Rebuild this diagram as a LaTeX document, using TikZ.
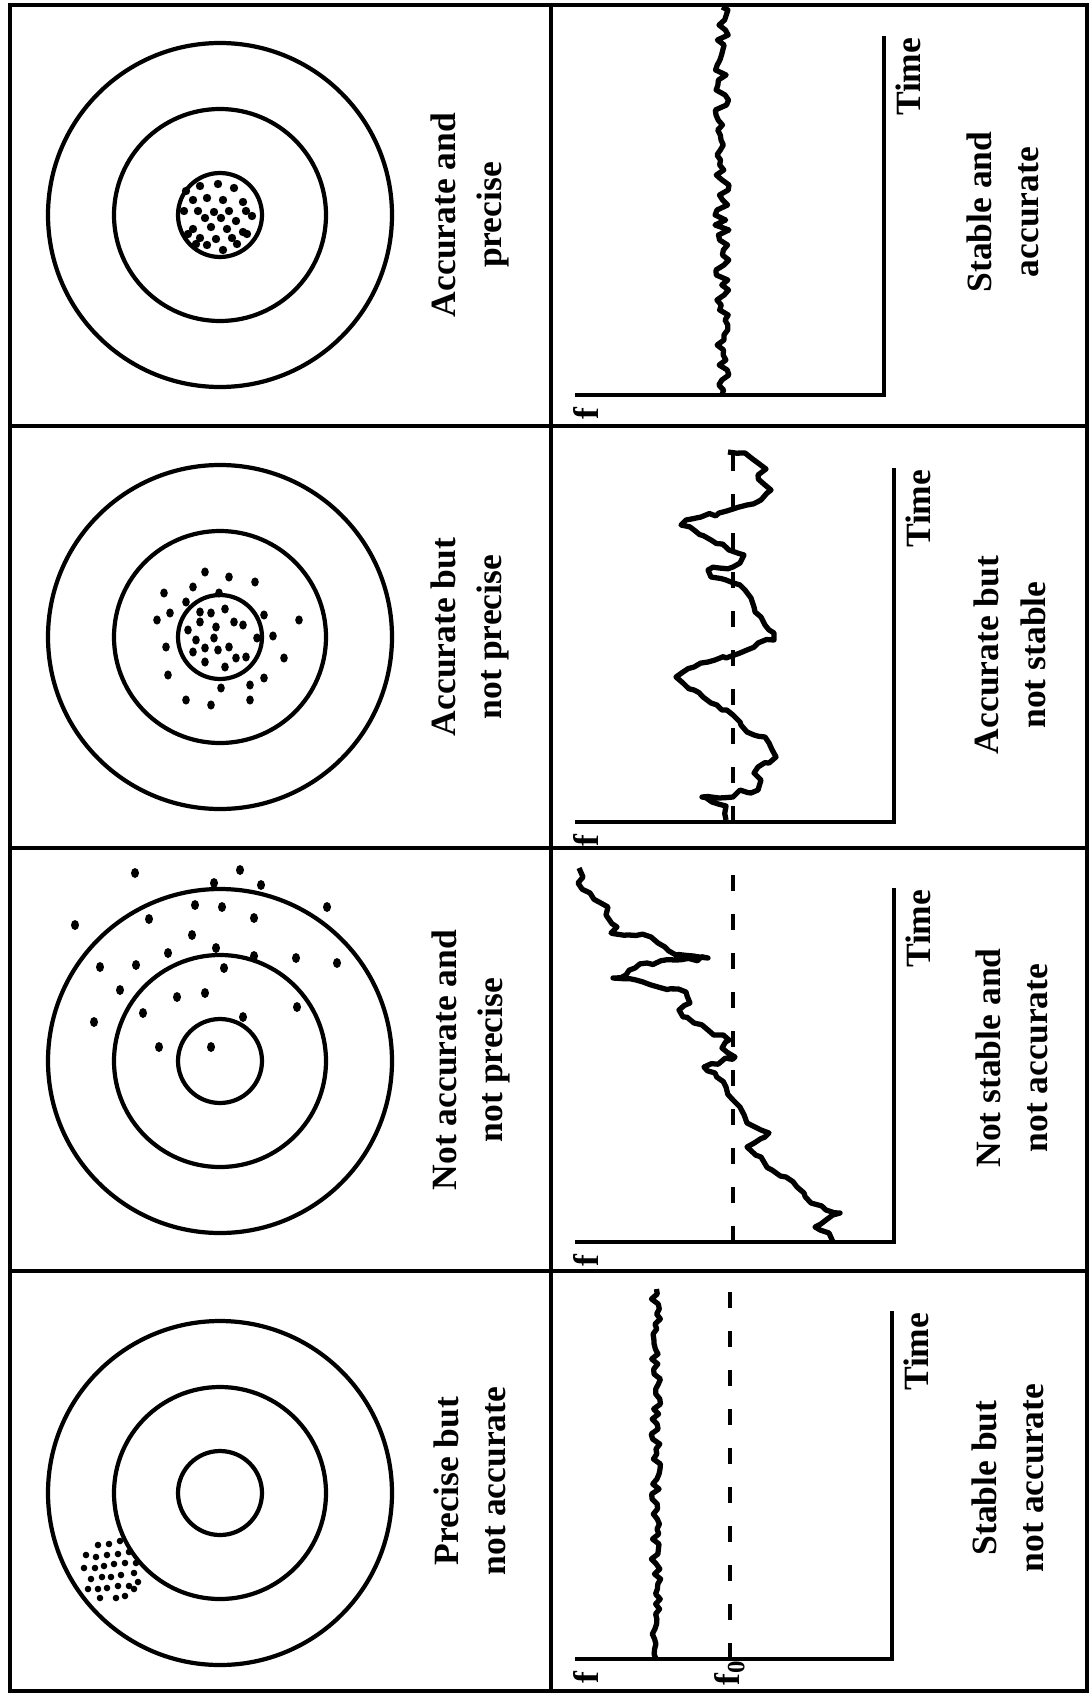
\documentclass[tikz,border=0pt]{standalone}
\usepackage{fontspec}
\setmainfont{Liberation Serif}
\usetikzlibrary{decorations.pathmorphing}

\begin{document}
\begin{tikzpicture}[x=0.01cm, y=-0.01cm,
    frame/.style={line width=1pt},
    ring/.style={line width=1.2pt},
    axis/.style={line width=1.3pt},
    signal/.style={line width=1.5pt, line join=round},
    rough/.style={signal, decorate, decoration={random steps, segment length=2pt, amplitude=0.6pt}},
    fzero/.style={line width=1.3pt, dash pattern=on 4.6pt off 6.5pt},
    caption/.style={rotate=90, align=center, font=\bfseries\fontsize{10.1}{13.3}\selectfont},
    axlabel/.style={rotate=90, inner sep=0pt, font=\bfseries\fontsize{10.1}{12}\selectfont}]
		\pgfmathsetseed{7}
		\useasboundingbox (0,0) rectangle (1091,1694);
		
		% Frame and cell dividers
		\draw[frame] (10,5) rectangle (1087,1691);
		\draw[frame] (551,5) -- (551,1691);
		\foreach \y in {426,848,1271}{
			\draw[frame] (10,\y) -- (1087,\y);
		}
		
		% Targets
		\foreach \cy in {215,637,1061,1493}{
			\draw[ring] (220,\cy) circle (172);
			\draw[ring] (220,\cy) circle (106);
			\draw[ring] (220,\cy) circle (42);
		}
		
		% Hits: accurate and precise
		\begin{scope}[shift={(218,217)}]
			\foreach \p in {(-32,-26),(-18,-31),(0,-33),(16,-29),(-25,-17),(-11,-19),(5,-17),(25,-15),
				(-34,-6),(-20,-6),(-4,-5),(11,-6),(28,-6),(-13,1),(3,1),(18,4),(34,-1),(-25,12),(-7,10),
				(9,12),(25,15),(-30,17),(-18,21),(-2,22),(14,21),(29,17),(-22,27),(-11,28),(5,33),(19,27)}
				\fill \p circle (4.2);
		\end{scope}
		
		% Hits: accurate but not precise
		\begin{scope}[shift={(221,639)}]
			\foreach \p in {(-16,-67),(8,-62),(34,-57),(-28,-52),(-57,-46),(-2,-46),(-35,-37),(-51,-26),
				(43,-24),(-64,-19),(78,-19),(-55,8),(52,-3),(63,19),(-53,36),(43,39),(29,46),(0,49),
				(-35,61),(-10,66),(29,61),(-21,-27),(-10,-26),(4,-30),(-33,-9),(-21,-17),(-5,-12),(13,-17),
				(22,-14),(-25,1),(-7,-1),(8,8),(-16,9),(-28,13),(-3,11),(15,19),(25,18),(36,-1),(-16,23),(4,28)}
				\fill \p ellipse (3.8 and 4.6);
		\end{scope}
		
		% Hits: not accurate and not precise
		\begin{scope}[shift={(219,1061)}]
			\foreach \p in {(-84,-188),(21,-191),(-5,-178),(42,-176),(-144,-136),(-70,-142),(-24,-156),
				(3,-154),(35,-143),(108,-154),(-27,-126),(-51,-108),(-83,-96),(-119,-94),(-3,-113),(35,-105),
				(77,-103),(118,-98),(5,-93),(-99,-71),(-42,-64),(-14,-68),(-125,-39),(-76,-48),(24,-44),
				(78,-54),(-60,-14),(-8,-14)}
				\fill \p ellipse (4 and 5);
		\end{scope}
		
		% Hits: precise but not accurate
		\foreach \p in {(98,1545),(109,1544),(120,1541),(86,1555),(96,1557),(107,1555),(118,1554),(129,1552),
			(84,1568),(95,1568),(104,1566),(114,1564),(125,1563),(136,1563),(91,1579),(102,1577),(111,1577),
			(121,1575),(134,1573),(98,1589),(107,1588),(118,1586),(129,1586),(138,1582),(100,1598),(116,1598),
			(125,1596),(134,1589),(88,1589)}
			\fill \p circle (3.3);
		
		% Captions of the targets
		\node[caption] (cap1) at (470,215) {Accurate and\\precise};
		\node[caption] (cap2) at (470,637) {Accurate but\\not precise};
		\node[caption] (cap3) at (471,1060) {Not accurate and\\not precise};
		\node[caption] (cap4) at (470,1481) {Precise but\\not accurate};
		
		% Axes f / Time
		\foreach \ya/\tx/\tt/\n in {395/884/36/1, 822/894/468/2, 1242/894/888/3, 1659/892/1311/4}{
			\coordinate (o\n) at (\tx,\ya);
			\coordinate (fend\n) at (575,\ya);
			\coordinate (tend\n) at (\tx,\tt);
			\draw[axis] (fend\n) -- (o\n) -- (tend\n);
			\node[axlabel, anchor=base west] (f\n) at (598,\ya+25) {f};
			\node[axlabel, anchor=north east] (time\n) at (\tx+11,\tt+1) {Time};
		}
		\node[axlabel, anchor=base west] (fnull) at (739,1686) {f\textsubscript{0}};
		
		% Reference level f_0
		\draw[fzero] (733,822) -- (733,452);
		\draw[fzero] (733,1242) -- (733,872);
		\draw[fzero] (730,1659) -- (730,1289);
		
		% Stable and accurate
		\draw[signal] (722,395) \foreach \k in {1,...,77}{ -- ({722+7*rand},{395-5*\k}) } -- (722,7);
		
		% Accurate but not stable
		\draw[rough] (726,820) -- (726,806) -- (712,802) -- (702,797) -- (719,798) -- (733,797) -- (740,790)
			-- (751,793) -- (758,790) -- (761,780) -- (754,773) -- (758,767) -- (769,763) -- (776,757)
			-- (769,743) -- (765,737) -- (754,735) -- (747,732) -- (740,722) -- (733,715) -- (722,710)
			-- (711,703) -- (703,697) -- (694,690) -- (683,683) -- (676,677) -- (683,672) -- (694,667)
			-- (708,662) -- (715,660) -- (726,658) -- (740,653) -- (747,650) -- (758,643) -- (774,640)
			-- (774,633) -- (765,625) -- (761,617) -- (754,607) -- (751,598) -- (745,590) -- (740,585)
			-- (726,580) -- (711,577) -- (708,570) -- (719,568) -- (733,567) -- (740,563) -- (744,555)
			-- (729,550) -- (711,540) -- (694,530) -- (681,525) -- (686,520) -- (701,517) -- (719,513)
			-- (733,509) -- (747,505) -- (761,500) -- (771,490) -- (765,485) -- (758,475) -- (766,469)
			-- (758,463) -- (745,453) -- (728,452);
		
		% Not stable and not accurate
		\draw[rough] (833,1242) -- (829,1233) -- (815,1227) -- (826,1220) -- (840,1213) -- (826,1210)
			-- (811,1203) -- (804,1193) -- (797,1187) -- (786,1177) -- (772,1170) -- (761,1157) -- (747,1147)
			-- (769,1133) -- (761,1130) -- (747,1123) -- (740,1107) -- (733,1100) -- (726,1087) -- (715,1073)
			-- (704,1067) -- (735,1057) -- (722,1048) -- (729,1040) -- (708,1030) -- (694,1023) -- (683,1017)
			-- (679,1010) -- (690,1003) -- (686,992) -- (658,987) -- (636,980) -- (613,978) -- (626,975)
			-- (635,968) -- (647,963) -- (708,958) -- (676,955) -- (665,947) -- (658,943) -- (651,937)
			-- (629,935) -- (611,933) -- (617,927) -- (606,915) -- (608,907) -- (599,902) -- (590,893)
			-- (578,883) -- (583,877) -- (579,868);
		
		% Stable but not accurate
		\draw[signal] (656,1659) \foreach \k in {1,...,74}{ -- ({656+5*rand},{1659-5*\k}) };
		
		% Captions of the plots
		\node[caption] (sig1) at (1003,212) {Stable and\\accurate};
		\node[caption] (sig2) at (1010,655) {Accurate but\\not stable};
		\node[caption] (sig3) at (1012,1058) {Not stable and\\not accurate};
		\node[caption] (sig4) at (1008,1478) {Stable but\\not accurate};
	\end{tikzpicture}
\end{document}
